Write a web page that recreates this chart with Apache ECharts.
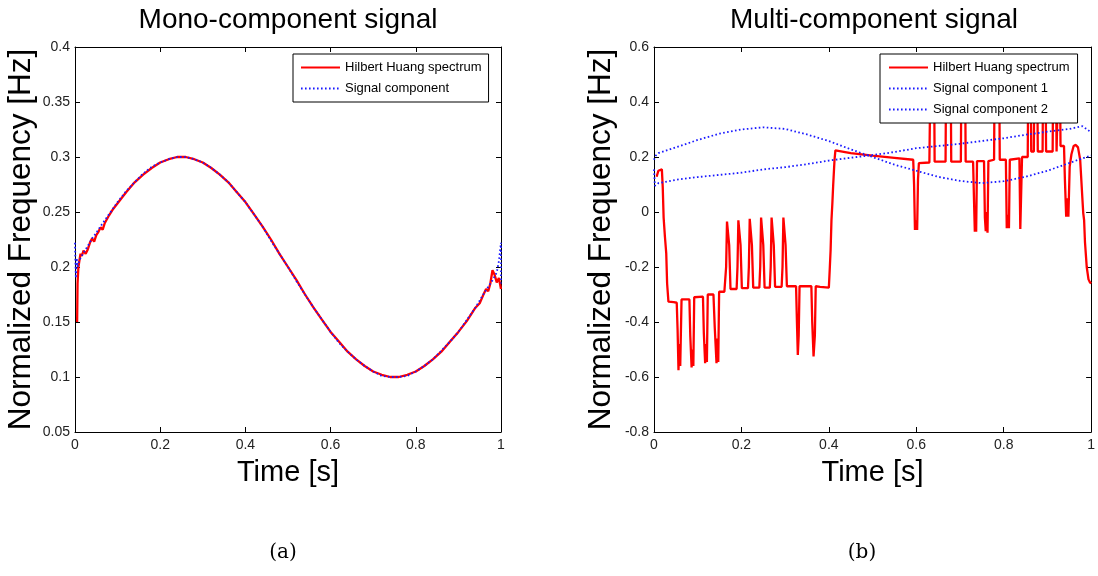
<!DOCTYPE html>
<html>
<head>
<meta charset="UTF-8">
<title>Hilbert Huang spectrum</title>
<script src="https://cdn.jsdelivr.net/npm/echarts@6/dist/echarts.min.js"></script>
<style>
  html, body { margin: 0; padding: 0; background: #fff; }
  #chart { width: 1098px; height: 576px; }
</style>
</head>
<body>
<div id="chart"></div>
<script>
// (a) mono-component signal: Hilbert Huang spectrum (red)
var monoHhsT = [0.005, 0.006, 0.008, 0.010, 0.013, 0.016, 0.020, 0.025, 0.030, 0.035, 0.040, 0.045, 0.050, 0.055, 0.060, 0.065, 0.070, 0.080, 0.090, 0.100,
  0.12, 0.14, 0.16, 0.18, 0.20, 0.22, 0.24, 0.26, 0.28, 0.30, 0.32, 0.34, 0.36, 0.38, 0.40, 0.42, 0.44, 0.46, 0.48, 0.50,
  0.52, 0.54, 0.56, 0.58, 0.60, 0.62, 0.64, 0.66, 0.68, 0.70, 0.72, 0.74, 0.76, 0.78, 0.80, 0.82, 0.84, 0.86, 0.88, 0.90,
  0.92, 0.94, 0.95, 0.96, 0.965, 0.97, 0.975, 0.98, 0.985, 0.99, 0.995, 1.0];
var monoHhsV = [0.150, 0.185, 0.200, 0.205, 0.212, 0.210, 0.215, 0.212, 0.216, 0.222, 0.226, 0.223, 0.229, 0.232, 0.236, 0.234, 0.240, 0.247, 0.253, 0.258,
  0.268, 0.277, 0.284, 0.290, 0.295, 0.298, 0.300, 0.300, 0.298, 0.295, 0.290, 0.284, 0.277, 0.268, 0.259, 0.248, 0.237, 0.225, 0.212, 0.200,
  0.188, 0.175, 0.163, 0.152, 0.141, 0.132, 0.123, 0.116, 0.110, 0.105, 0.102, 0.100, 0.100, 0.102, 0.105, 0.110, 0.116, 0.123, 0.132, 0.141,
  0.151, 0.163, 0.167, 0.176, 0.180, 0.178, 0.185, 0.197, 0.193, 0.186, 0.190, 0.180];

// (a) signal component (blue dotted)
var monoSigT = [0, 0.002, 0.004, 0.006, 0.01, 0.02, 0.03, 0.04, 0.05, 0.06, 0.08, 0.10, 0.12, 0.14, 0.16, 0.18, 0.20, 0.22, 0.24, 0.26,
  0.28, 0.30, 0.32, 0.34, 0.36, 0.38, 0.40, 0.42, 0.44, 0.46, 0.48, 0.50, 0.52, 0.54, 0.56, 0.58, 0.60, 0.62, 0.64, 0.66,
  0.68, 0.70, 0.72, 0.74, 0.76, 0.78, 0.80, 0.82, 0.84, 0.86, 0.88, 0.90, 0.92, 0.94, 0.96, 0.98, 0.99, 0.995, 1.0, 1.0];
var monoSigV = [0.222, 0.190, 0.208, 0.200, 0.206, 0.213, 0.219, 0.226, 0.231, 0.237, 0.248, 0.259, 0.269, 0.277, 0.285, 0.291, 0.295, 0.298, 0.300, 0.300,
  0.298, 0.295, 0.290, 0.284, 0.277, 0.268, 0.259, 0.248, 0.237, 0.224, 0.212, 0.200, 0.187, 0.175, 0.163, 0.152, 0.141, 0.131, 0.123, 0.116,
  0.110, 0.105, 0.101, 0.100, 0.100, 0.101, 0.105, 0.110, 0.116, 0.124, 0.132, 0.141, 0.152, 0.163, 0.176, 0.188, 0.195, 0.205, 0.222, 0.185];

// (b) multi-component signal: Hilbert Huang spectrum (red)
var multiHhsT = [0.006, 0.010, 0.013, 0.018, 0.020, 0.022, 0.025, 0.028, 0.030, 0.033, 0.045, 0.052, 0.054, 0.056, 0.058, 0.060, 0.062, 0.063,
  0.081, 0.083, 0.086, 0.088, 0.090, 0.092, 0.112, 0.114, 0.117, 0.119, 0.121, 0.123, 0.136, 0.139, 0.143, 0.145, 0.147, 0.149, 0.161,
  0.163, 0.165, 0.167, 0.170, 0.172, 0.175,
  0.189, 0.191, 0.193, 0.196, 0.198, 0.201,
  0.215, 0.217, 0.219, 0.222, 0.224, 0.227,
  0.241, 0.243, 0.245, 0.248, 0.250, 0.253,
  0.265, 0.267, 0.269, 0.272, 0.274, 0.277,
  0.292, 0.294, 0.296, 0.299, 0.301, 0.304,
  0.325, 0.327, 0.329, 0.331, 0.333, 0.360, 0.362, 0.365, 0.368, 0.370, 0.380, 0.400,
  0.402, 0.404, 0.406, 0.408, 0.410, 0.413, 0.415, 0.45, 0.50, 0.55, 0.593,
  0.595, 0.597, 0.600, 0.602, 0.604, 0.606, 0.630, 0.632, 0.641, 0.642, 0.667, 0.668, 0.679, 0.680, 0.702, 0.703, 0.712, 0.713,
  0.730, 0.732, 0.734, 0.736, 0.737, 0.739, 0.755, 0.757, 0.759, 0.761, 0.763, 0.765, 0.778, 0.779, 0.790, 0.791,
  0.805, 0.807, 0.810, 0.812, 0.814, 0.836, 0.838, 0.840, 0.842, 0.855, 0.856, 0.862, 0.863, 0.869, 0.870, 0.877, 0.878,
  0.889, 0.890, 0.896, 0.897, 0.912, 0.913, 0.920, 0.921, 0.924, 0.929, 0.930, 0.938, 0.940, 0.943, 0.946, 0.948,
  0.951, 0.955, 0.960, 0.965, 0.970, 0.975, 0.980, 0.982, 0.984, 0.986, 0.990, 0.994, 0.997, 1.000];
var multiHhsV = [0.128, 0.150, 0.157, 0.155, 0.090, -0.020, -0.090, -0.150, -0.260, -0.326, -0.328, -0.330, -0.430, -0.575, -0.480, -0.560, -0.400, -0.318,
  -0.318, -0.450, -0.565, -0.500, -0.560, -0.310, -0.308, -0.440, -0.550, -0.480, -0.545, -0.300, -0.300, -0.420, -0.550, -0.460, -0.545, -0.290, -0.290,
  -0.285, -0.200, -0.035, -0.035, -0.120, -0.280,
  -0.280, -0.200, -0.030, -0.030, -0.120, -0.277,
  -0.277, -0.200, -0.025, -0.025, -0.120, -0.275,
  -0.275, -0.200, -0.020, -0.020, -0.120, -0.275,
  -0.275, -0.200, -0.020, -0.020, -0.120, -0.272,
  -0.272, -0.200, -0.020, -0.020, -0.120, -0.270,
  -0.270, -0.400, -0.520, -0.450, -0.270, -0.270, -0.400, -0.525, -0.450, -0.270, -0.272, -0.275,
  -0.210, -0.140, -0.030, 0.030, 0.100, 0.190, 0.224, 0.214, 0.205, 0.197, 0.190,
  0.100, -0.065, -0.030, -0.065, 0.120, 0.178, 0.180, 0.450, 0.450, 0.183, 0.183, 0.450, 0.450, 0.183, 0.183, 0.450, 0.450, 0.183,
  0.183, 0.050, -0.072, -0.020, -0.072, 0.185, 0.185, -0.020, -0.070, 0.000, -0.075, 0.185, 0.190, 0.450, 0.450, 0.190,
  0.190, -0.059, -0.010, -0.059, 0.190, 0.195, -0.062, -0.062, 0.200, 0.200, 0.450, 0.450, 0.220, 0.220, 0.450, 0.450, 0.220,
  0.220, 0.450, 0.450, 0.220, 0.220, 0.450, 0.450, 0.220, 0.450, 0.450, 0.240, 0.240, 0.120, -0.017, 0.050, -0.017,
  0.165, 0.210, 0.240, 0.244, 0.235, 0.190, 0.050, -0.004, -0.030, -0.110, -0.200, -0.245, -0.255, -0.260];

// (b) signal component 1 (blue dotted)
var comp1T = [0, 0.004, 0.01, 0.05, 0.10, 0.15, 0.20, 0.25, 0.30, 0.35, 0.40, 0.45, 0.50, 0.55, 0.60, 0.65, 0.70, 0.75, 0.80, 0.85, 0.90, 0.95, 0.98, 1.0];
var comp1V = [0.190, 0.205, 0.214, 0.235, 0.262, 0.285, 0.300, 0.308, 0.302, 0.282, 0.258, 0.228, 0.200, 0.172, 0.150, 0.128, 0.113, 0.105, 0.112, 0.128, 0.150, 0.178, 0.195, 0.205];

// (b) signal component 2 (blue dotted)
var comp2T = [0, 0.002, 0.01, 0.05, 0.10, 0.15, 0.20, 0.25, 0.30, 0.35, 0.40, 0.45, 0.50, 0.55, 0.60, 0.65, 0.70, 0.75, 0.80, 0.85, 0.90, 0.95, 0.98, 1.0];
var comp2V = [0.155, 0.095, 0.105, 0.117, 0.127, 0.135, 0.143, 0.155, 0.163, 0.174, 0.187, 0.197, 0.207, 0.218, 0.232, 0.240, 0.248, 0.258, 0.268, 0.281, 0.292, 0.302, 0.312, 0.290];

var FONT = 'Liberation Sans';

function pairs(t, v) {
  var out = [];
  for (var i = 0; i < t.length; i++) out.push([t[i], v[i]]);
  return out;
}

function xAxes(gridIndex) {
  var base = {
    type: 'value', gridIndex: gridIndex, min: 0, max: 1, interval: 0.2,
    axisLine: { show: true, onZero: false, lineStyle: { color: '#000', width: 1 } },
    axisTick: { show: true, inside: true, length: 5, lineStyle: { color: '#000' } },
    splitLine: { show: false }
  };
  var bottom = Object.assign({}, base, {
    position: 'bottom',
    name: 'Time [s]', nameLocation: 'middle', nameGap: 26,
    nameTextStyle: { fontSize: 29, fontFamily: FONT, color: '#000' },
    axisLabel: { show: true, margin: 6, fontSize: 14, fontFamily: FONT, color: '#222' }
  });
  var top = Object.assign({}, base, { position: 'top', axisLabel: { show: false } });
  return [bottom, top];
}

function yAxes(gridIndex, min, max, step, gap) {
  var base = {
    type: 'value', gridIndex: gridIndex, min: min, max: max, interval: step,
    axisLine: { show: true, onZero: false, lineStyle: { color: '#000', width: 1 } },
    axisTick: { show: true, inside: true, length: 5, lineStyle: { color: '#000' } },
    splitLine: { show: false }
  };
  var left = Object.assign({}, base, {
    position: 'left',
    name: 'Normalized Frequency [Hz]', nameLocation: 'middle', nameGap: gap,
    nameTextStyle: { fontSize: 31.5, fontFamily: FONT, color: '#000' },
    axisLabel: { show: true, margin: 5, fontSize: 14, fontFamily: FONT, color: '#222' }
  });
  var right = Object.assign({}, base, { position: 'right', axisLabel: { show: false } });
  return [left, right];
}

function legendBox(names, left, padLR) {
  return {
    data: names, orient: 'vertical', left: left, top: 54,
    padding: [7, padLR, 7, padLR], itemGap: 8, itemWidth: 39, itemHeight: 14,
    backgroundColor: '#fff', borderColor: '#000', borderWidth: 1, borderRadius: 0,
    selectedMode: false,
    itemStyle: { opacity: 0 },
    textStyle: { fontSize: 13, fontFamily: FONT, color: '#000' }
  };
}

function caption(text, x, y, size, family) {
  return {
    type: 'text', x: x, y: y, z: 10,
    style: { text: text, fill: '#000', font: size + 'px "' + family + '"',
      textAlign: 'center', textVerticalAlign: 'middle', align: 'center', verticalAlign: 'middle' }
  };
}

var chart = echarts.init(document.getElementById('chart'));

var red = { color: '#ff0000', width: 2.3 };
var blue = { color: '#1a1aff', width: 1.8, type: [1.6, 2.4] };

chart.setOption({
  animation: false,
  textStyle: { fontFamily: FONT },
  grid: [
    { left: 75, top: 47, width: 426, height: 385 },
    { left: 654, top: 47, width: 440, height: 385 }
  ],
  xAxis: xAxes(0).concat(xAxes(1)),
  yAxis: yAxes(0, 0.05, 0.4, 0.05, 38).concat(yAxes(1, -0.8, 0.6, 0.2, 37)),
  legend: [
    legendBox(['Hilbert Huang spectrum', 'Signal component'], 293, 7),
    legendBox(['Hilbert Huang spectrum', 'Signal component 1', 'Signal component 2'], 880, 8)
  ],
  graphic: [
    caption('Mono-component signal', 288, 20, 28, FONT),
    caption('Multi-component signal', 874, 20, 28, FONT),
    caption('(a)', 283, 553, 20, 'DejaVu Serif'),
    caption('(b)', 862, 553, 20, 'DejaVu Serif')
  ],
  series: [
    { name: 'Hilbert Huang spectrum', type: 'line', xAxisIndex: 0, yAxisIndex: 0, symbol: 'none',
      lineStyle: red, itemStyle: { color: red.color }, data: pairs(monoHhsT, monoHhsV) },
    { name: 'Signal component', type: 'line', xAxisIndex: 0, yAxisIndex: 0, symbol: 'none',
      lineStyle: blue, itemStyle: { color: blue.color }, data: pairs(monoSigT, monoSigV) },
    { name: 'Hilbert Huang spectrum', type: 'line', xAxisIndex: 2, yAxisIndex: 2, symbol: 'none',
      lineStyle: red, itemStyle: { color: red.color }, data: pairs(multiHhsT, multiHhsV) },
    { name: 'Signal component 1', type: 'line', xAxisIndex: 2, yAxisIndex: 2, symbol: 'none',
      lineStyle: blue, itemStyle: { color: blue.color }, data: pairs(comp1T, comp1V) },
    { name: 'Signal component 2', type: 'line', xAxisIndex: 2, yAxisIndex: 2, symbol: 'none',
      lineStyle: blue, itemStyle: { color: blue.color }, data: pairs(comp2T, comp2V) }
  ]
});
</script>
</body>
</html>
